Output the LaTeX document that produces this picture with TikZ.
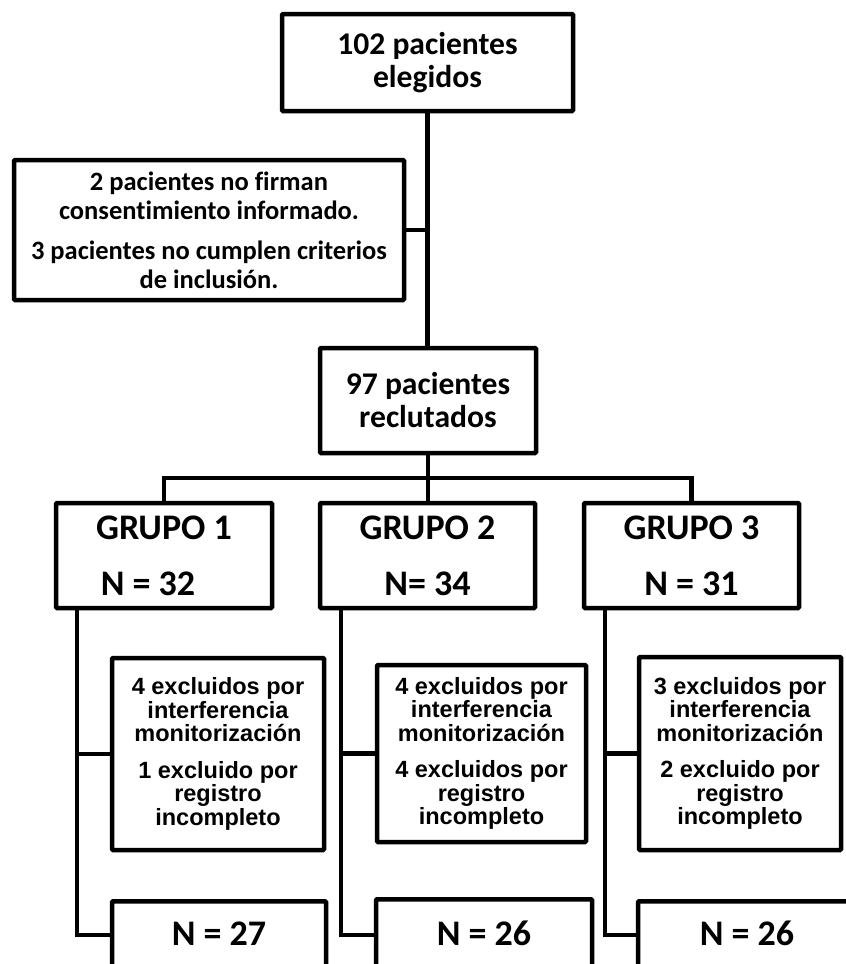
\documentclass[tikz,border=0pt]{standalone}
\usepackage{fontspec}
\newfontfamily\calfont[Ligatures={NoCommon}]{Carlito}
\newfontfamily\arifont{Liberation Sans}
\begin{document}
\begin{tikzpicture}[x=1pt,y=-1pt,
  box/.style={draw=black, line width=4.5pt, fill=white, inner sep=0pt, align=center, text=black, rounded corners=1pt},
  bigtxt/.style={font=\calfont\bfseries\fontsize{31.6}{33}\selectfont},
  midtxt/.style={font=\calfont\bfseries\fontsize{26.5}{29}\selectfont},
  grptxt/.style={font=\calfont\bfseries\fontsize{36}{56}\selectfont},
  exctxt/.style={font=\arifont\bfseries\fontsize{23.5}{23.5}\selectfont},
  nbox/.style={box, grptxt, anchor=north, text height=44.6pt, text depth=70pt},
  conn/.style={draw=black, line width=4.5pt, line join=miter}]
\useasboundingbox (0,0) rectangle (846,964);
\fill[white] (0,0) rectangle (846,964);
\clip (0,0) rectangle (846,964);

% main column
\node[box, bigtxt, minimum width=291pt, minimum height=97pt] (top) at (427.5,62.5) {102 pacientes\\elegidos};
\node[box, midtxt, minimum width=390pt, minimum height=140pt] (excltop) at (209,230)
  {2 pacientes no firman\\consentimiento informado.\\[11pt]3 pacientes no cumplen criterios\\de inclusión.};
\node[box, bigtxt, minimum width=216pt, minimum height=105pt] (rec) at (428,400.5) {97 pacientes\\reclutados};

% groups
\node[box, grptxt, minimum width=216pt, minimum height=105pt] (g1) at (164,555.5) {GRUPO 1\\N = 32\rule{32pt}{0pt}};
\node[box, grptxt, minimum width=215pt, minimum height=105pt] (g2) at (427.5,555.5) {GRUPO 2\\N= 34};
\node[box, grptxt, minimum width=215pt, minimum height=105pt] (g3) at (691.5,555.5) {GRUPO 3\\N = 31};

% exclusions per group
\node[box, exctxt, minimum width=212pt, minimum height=192pt] (e1) at (218,754)
  {4 excluidos por\\interferencia\\monitorización\\[13pt]1 excluido por\\registro\\incompleto};
\node[box, exctxt, minimum width=209pt, minimum height=177pt] (e2) at (481.5,753.5)
  {4 excluidos por\\interferencia\\monitorización\\[13pt]4 excluidos por\\registro\\incompleto};
\node[box, exctxt, minimum width=202pt, minimum height=193pt] (e3) at (740,753.5)
  {3 excluidos por\\interferencia\\monitorización\\[13pt]2 excluido por\\registro\\incompleto};

% final counts
\node[nbox, minimum width=214pt] (n1) at (219,899) {N = 27};
\node[nbox, minimum width=216pt, text height=46.6pt] (n2) at (484,897) {N = 26};
\node[nbox, minimum width=218pt] (n3) at (747,899) {N = 26};

% connectors
\coordinate (bus) at (0,478);
\draw[conn] (top.south) -- (top.south |- rec.north);
\draw[conn] (excltop.east) -- (excltop.east -| top.south);
\draw[conn] (rec.south) -- (rec.south |- g2.north);
\draw[conn] (g1.north) -- (g1.north |- bus) -- (g3.north |- bus) -- (g3.north);

\coordinate (t1) at ([xshift=23pt]g1.south west);
\coordinate (t2) at ([xshift=23pt]g2.south west);
\coordinate (t3) at ([xshift=23pt]g3.south west);
\coordinate (c1) at ([yshift=-36pt]n1.north west);
\coordinate (c2) at ([yshift=-38pt]n2.north west);
\coordinate (c3) at ([yshift=-36pt]n3.north west);

\draw[conn] (t1) |- (c1);
\draw[conn] (t2) |- (c2);
\draw[conn] (t3) |- (c3);
\draw[conn] (e1.west) -- (e1.west -| t1);
\draw[conn] (e2.west) -- (e2.west -| t2);
\draw[conn] (e3.west) -- (e3.west -| t3);
\end{tikzpicture}
\end{document}
